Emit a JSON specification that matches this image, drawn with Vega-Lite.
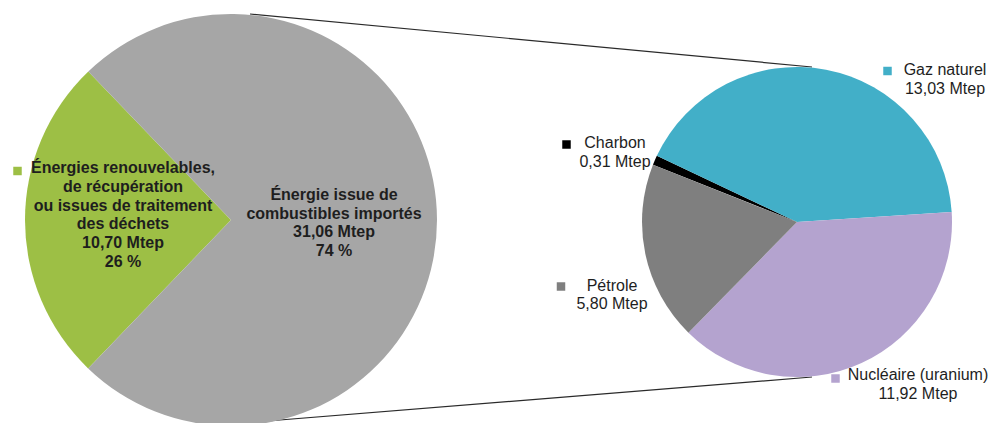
{
  "$schema": "https://vega.github.io/schema/vega-lite/v6.json",
  "width": 992,
  "height": 423,
  "autosize": "none",
  "padding": 0,
  "background": "white",
  "config": {"view": {"stroke": null}, "text": {"font": "Liberation Sans", "fontSize": 16, "color": "#1e1e1e", "lineBreak": "\n", "lineHeight": 18.5, "align": "center", "baseline": "middle"}},
  "datasets": {
    "total": [
      {"pie": "total", "source": "Énergies renouvelables", "mtep": 10.70, "rang": 1, "label": "Énergies renouvelables,\nde récupération\nou issues de traitement\ndes déchets\n10,70 Mtep\n26 %"},
      {"pie": "total", "source": "Énergie importée", "mtep": 31.06, "rang": 2, "label": "Énergie issue de\ncombustibles importés\n31,06 Mtep\n74 %"}
    ],
    "importe": [
      {"pie": "importé", "source": "Charbon", "mtep": 0.31, "rang": 1, "label": "Charbon\n0,31 Mtep"},
      {"pie": "importé", "source": "Gaz naturel", "mtep": 13.03, "rang": 2, "label": "Gaz naturel\n13,03 Mtep"},
      {"pie": "importé", "source": "Nucléaire (uranium)", "mtep": 11.92, "rang": 3, "label": "Nucléaire (uranium)\n11,92 Mtep"},
      {"pie": "importé", "source": "Pétrole", "mtep": 5.80, "rang": 4, "label": "Pétrole\n5,80 Mtep"}
    ]
  },
  "encoding": {
    "x": {"field": "pie", "type": "nominal", "axis": null, "scale": {"type": "point", "domain": ["total", "importé"], "range": [231, 797], "padding": 0}},
    "y": {"field": "pie", "type": "nominal", "axis": null, "scale": {"type": "point", "domain": ["total", "importé"], "range": [220, 222], "padding": 0}},
    "color": {"field": "source", "type": "nominal", "legend": null, "scale": {
      "domain": ["Énergies renouvelables", "Énergie importée", "Charbon", "Gaz naturel", "Nucléaire (uranium)", "Pétrole"],
      "range": ["#9dbf45", "#a6a6a6", "#000000", "#42afc8", "#b4a3cf", "#7f7f7f"]}}
  },
  "layer": [
    {
      "data": {"values": [{}]},
      "layer": [
        {"mark": {"type": "rule", "color": "#2a2a2a", "strokeWidth": 1.2, "xOffset": 19, "yOffset": -206, "x2Offset": 15, "y2Offset": -155},
         "encoding": {"x": {"datum": "total", "type": "nominal"}, "x2": {"datum": "importé"}, "y": {"datum": "total", "type": "nominal"}, "y2": {"datum": "importé"}, "color": {"value": "#2a2a2a"}}},
        {"mark": {"type": "rule", "color": "#2a2a2a", "strokeWidth": 1.2, "xOffset": 24, "yOffset": 202, "x2Offset": 15, "y2Offset": 155},
         "encoding": {"x": {"datum": "total", "type": "nominal"}, "x2": {"datum": "importé"}, "y": {"datum": "total", "type": "nominal"}, "y2": {"datum": "importé"}, "color": {"value": "#2a2a2a"}}}
      ]
    },
    {
      "data": {"name": "total"},
      "layer": [
        {"mark": {"type": "arc", "radius": 206},
         "encoding": {"theta": {"field": "mtep", "type": "quantitative", "stack": true, "scale": {"range": [3.908, 10.191]}}, "order": {"field": "rang", "type": "quantitative"}}},
        {"transform": [{"filter": "datum.rang == 1"}],
         "mark": {"type": "text", "fontWeight": "bold", "fontSize": 16, "lineHeight": 18.8, "dx": -108, "dy": -52},
         "encoding": {"text": {"field": "label"}, "color": {"value": "#1e1e1e"}}},
        {"transform": [{"filter": "datum.rang == 2"}],
         "mark": {"type": "text", "fontWeight": "bold", "fontSize": 16, "lineHeight": 18.5, "dx": 103, "dy": -25},
         "encoding": {"text": {"field": "label"}, "color": {"value": "#1e1e1e"}}},
        {"transform": [{"filter": "datum.rang == 1"}],
         "mark": {"type": "point", "shape": "square", "filled": true, "size": 72, "opacity": 1, "xOffset": -213.5, "yOffset": -49}}
      ]
    },
    {
      "data": {"name": "importe"},
      "layer": [
        {"mark": {"type": "arc", "radius": 155},
         "encoding": {"theta": {"field": "mtep", "type": "quantitative", "stack": true, "scale": {"range": [5.091, 11.374]}}, "order": {"field": "rang", "type": "quantitative"}}},
        {"transform": [{"filter": "datum.source == 'Charbon'"}],
         "mark": {"type": "text", "dx": -182, "dy": -78.75},
         "encoding": {"text": {"field": "label"}, "color": {"value": "#1e1e1e"}}},
        {"transform": [{"filter": "datum.source == 'Charbon'"}],
         "mark": {"type": "point", "shape": "square", "filled": true, "size": 72, "opacity": 1, "xOffset": -230.5, "yOffset": -77.5}},
        {"transform": [{"filter": "datum.source == 'Gaz naturel'"}],
         "mark": {"type": "text", "dx": 148, "dy": -151.75},
         "encoding": {"text": {"field": "label"}, "color": {"value": "#1e1e1e"}}},
        {"transform": [{"filter": "datum.source == 'Gaz naturel'"}],
         "mark": {"type": "point", "shape": "square", "filled": true, "size": 72, "opacity": 1, "xOffset": 90.5, "yOffset": -151}},
        {"transform": [{"filter": "datum.source == 'Pétrole'"}],
         "mark": {"type": "text", "dx": -185, "dy": 63.75},
         "encoding": {"text": {"field": "label"}, "color": {"value": "#1e1e1e"}}},
        {"transform": [{"filter": "datum.source == 'Pétrole'"}],
         "mark": {"type": "point", "shape": "square", "filled": true, "size": 72, "opacity": 1, "xOffset": -236, "yOffset": 64.5}},
        {"transform": [{"filter": "datum.source == 'Nucléaire (uranium)'"}],
         "mark": {"type": "text", "dx": 121, "dy": 153.25},
         "encoding": {"text": {"field": "label"}, "color": {"value": "#1e1e1e"}}},
        {"transform": [{"filter": "datum.source == 'Nucléaire (uranium)'"}],
         "mark": {"type": "point", "shape": "square", "filled": true, "size": 72, "opacity": 1, "xOffset": 38.5, "yOffset": 156.5}}
      ]
    }
  ],
  "resolve": {"scale": {"theta": "independent"}}
}
